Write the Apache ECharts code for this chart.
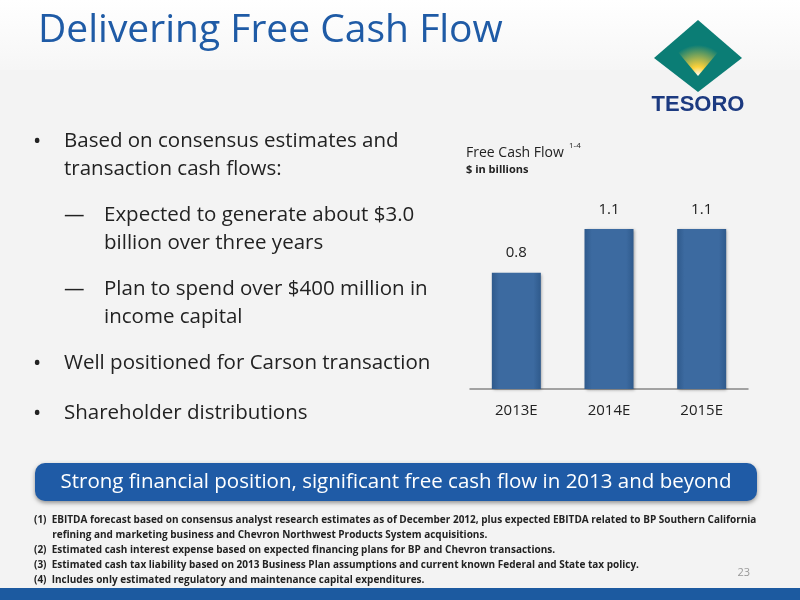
<!DOCTYPE html>
<html><head><meta charset="utf-8">
<script src="https://cdn.jsdelivr.net/npm/echarts@6/dist/echarts.min.js"></script>
<style>html,body{margin:0;padding:0;}#c{width:800px;height:600px;}</style>
</head><body><div id="c"></div>
<script>
const categories = ['2013E','2014E','2015E'];
const values = [0.8, 1.1, 1.1];
const valueLabels = ['0.8','1.1','1.1'];
const bullets = [
  {t:'•', x:33, y:144}, {t:'Based on consensus estimates and', x:64, y:144},
  {t:'transaction cash flows:', x:64, y:172},
  {t:'—', x:64, y:218}, {t:'Expected to generate about $3.0', x:104, y:218},
  {t:'billion over three years', x:104, y:246},
  {t:'—', x:64, y:292}, {t:'Plan to spend over $400 million in', x:104, y:292},
  {t:'income capital', x:104, y:320},
  {t:'•', x:33, y:366}, {t:'Well positioned for Carson transaction', x:64, y:366},
  {t:'•', x:33, y:416}, {t:'Shareholder distributions', x:64, y:416}
];
const footnotes = [
  '(1)  EBITDA forecast based on consensus analyst research estimates as of December 2012, plus expected EBITDA related to BP Southern California',
  '       refining and marketing business and Chevron Northwest Products System acquisitions.',
  '(2)  Estimated cash interest expense based on expected financing plans for BP and Chevron transactions.',
  '(3)  Estimated cash tax liability based on 2013 Business Plan assumptions and current known Federal and State tax policy.',
  '(4)  Includes only estimated regulatory and maintenance capital expenditures.'
];
const F = 'Open Sans, Noto Sans, sans-serif';
const g = [];
g.push({type:'rect', z:-10, shape:{x:0,y:0,width:800,height:600}, style:{fill:'#f3f3f3'}});
g.push({type:'rect', z:-9, shape:{x:0,y:0,width:800,height:70}, style:{fill:new echarts.graphic.LinearGradient(0,0,0,1,[{offset:0,color:'#ffffff'},{offset:1,color:'#f6f6f6'}])}});
g.push({type:'rect', shape:{x:0,y:588,width:800,height:12}, style:{fill:'#1c5aa0'}});
g.push({type:'text', style:{text:'Delivering Free Cash Flow', x:38, y:11, font:'39px '+F, fill:'#1f5ba6'}});
// logo
g.push({type:'polygon', shape:{points:[[698,20],[742,58],[698,92],[654,58]]}, style:{fill:'#0b7d75'}});
g.push({type:'polygon', shape:{points:[[698,76],[672,45],[724,45]]}, style:{fill:new echarts.graphic.RadialGradient(0.5,1,1,[{offset:0,color:'#ffffff'},{offset:0.3,color:'#fbd13a'},{offset:1,color:'#0b7d75'}])}});
g.push({type:'text', style:{text:'TESORO', x:698, y:94, align:'center', font:'bold 22px Liberation Sans, sans-serif', fill:'#1c3a80'}});
bullets.forEach(b=>g.push({type:'text', style:{text:b.t, x:b.x, y:b.y-13, font:(b.t==='•'?'22px ':'20.5px ')+F, fill:'#222'}}));
g.push({type:'text', style:{text:'Free Cash Flow', x:466, y:146, font:'14px '+F, fill:'#222'}});
g.push({type:'text', style:{text:'1-4', x:569, y:142, font:'8px '+F, fill:'#222'}});
g.push({type:'text', style:{text:'$ in billions', x:466, y:164, font:'bold 11px '+F, fill:'#222'}});
g.push({type:'rect', shape:{x:35,y:463,width:722,height:38,r:10}, style:{fill:'#1f5ba6', shadowBlur:4, shadowColor:'rgba(0,0,0,0.4)', shadowOffsetY:2}});
g.push({type:'text', style:{text:'Strong financial position, significant free cash flow in 2013 and beyond', x:396, y:482, align:'center', verticalAlign:'middle', font:'20.5px '+F, fill:'#fff'}});
footnotes.forEach((f,i)=>g.push({type:'text', style:{text:f, x:34, y:515+i*15, font:'bold 10px '+F, fill:'#222'}}));
g.push({type:'text', style:{text:'23', x:750, y:567, align:'right', font:'11px '+F, fill:'#999'}});

const chart = echarts.init(document.getElementById('c'));
chart.setOption({
  animation:false,
  graphic:g,
  grid:{left:470, width:278, top:200, bottom:211},
  xAxis:{type:'category', data:categories, axisTick:{show:false},
    axisLine:{lineStyle:{color:'#888',width:1.5}},
    axisLabel:{margin:14, fontSize:15, color:'#222', fontFamily:F}},
  yAxis:{type:'value', min:0, max:1.3, show:false, splitLine:{show:false}},
  series:[{type:'bar', data:values, barWidth:49,
    itemStyle:{color:new echarts.graphic.LinearGradient(0,0,1,0,[{offset:0,color:'#2f5a8c'},{offset:0.15,color:'#3c6aa0'},{offset:0.85,color:'#3c6aa0'},{offset:1,color:'#2f5a8c'}]), shadowBlur:3, shadowColor:'rgba(0,0,0,0.35)', shadowOffsetX:1, shadowOffsetY:1},
    label:{show:true, position:'top', distance:12, fontSize:15, color:'#222', fontFamily:F,
      formatter:p=>valueLabels[p.dataIndex]}}]
});
</script></body></html>
